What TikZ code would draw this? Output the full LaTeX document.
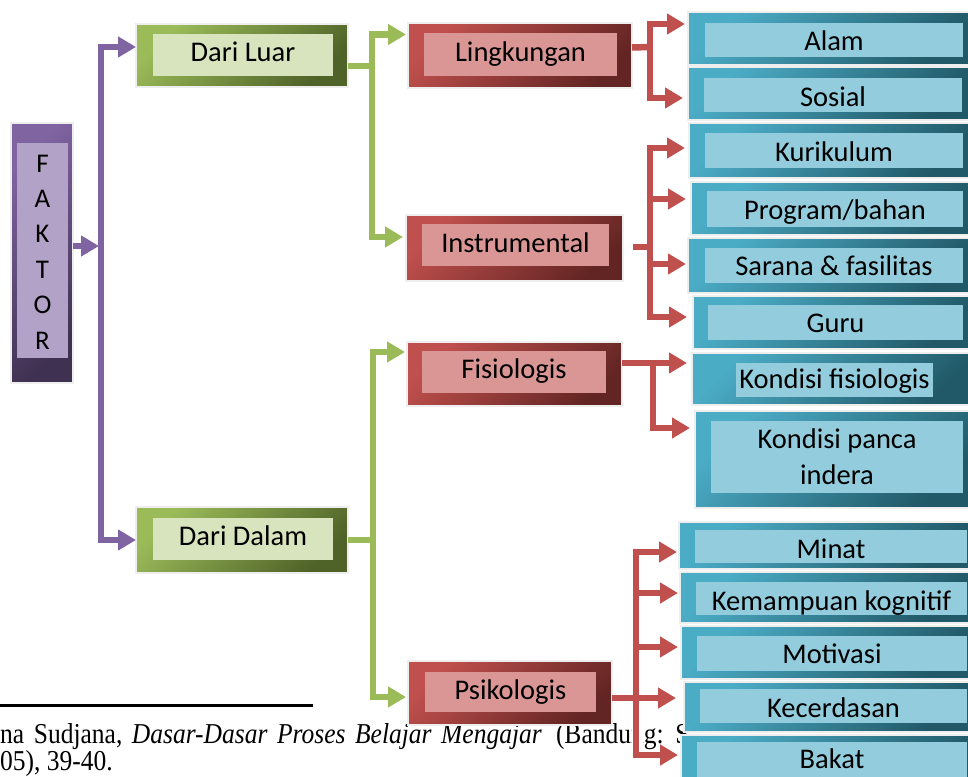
\documentclass[tikz,border=0pt]{standalone}
\usepackage{fontspec}
\setmainfont{Carlito}
\newfontfamily\tnr{Liberation Serif}
\usetikzlibrary{arrows.meta,calc,fit}
\definecolor{purA}{HTML}{8064A2}
\definecolor{purB}{HTML}{3F3151}
\definecolor{purI}{HTML}{B3A2C7}
\definecolor{grnA}{HTML}{9BBB59}
\definecolor{grnB}{HTML}{4F6228}
\definecolor{grnI}{HTML}{D7E4BD}
\definecolor{redA}{HTML}{C0504D}
\definecolor{redB}{HTML}{632523}
\definecolor{redI}{HTML}{D99694}
\definecolor{cyaA}{HTML}{4BACC6}
\definecolor{cyaB}{HTML}{215968}
\definecolor{cyaI}{HTML}{93CDDD}
\definecolor{rim}{HTML}{EEEEEE}
\tikzset{
  box/.style={inner sep=0pt, outer sep=0pt, draw=rim, line width=2pt},
  po/.style={box, top color=purA, bottom color=purB, shading angle=45},
  go/.style={box, top color=grnA, bottom color=grnB, shading angle=45},
  ro/.style={box, top color=redA, bottom color=redB, shading angle=45},
  co/.style={box, top color=cyaA, bottom color=cyaB, shading angle=45},
  inn/.style={inner sep=0pt, outer sep=0pt, draw=none},
  pin/.style={inn, fill=purI},
  gin/.style={inn, fill=grnI},
  rin/.style={inn, fill=redI},
  cin/.style={inn, fill=cyaI},
  lbl/.style={font=\fontsize{28.5}{36}\selectfont, inner sep=0pt, anchor=base, text=black},
  foot/.style={inner sep=0pt, anchor=base west, font=\tnr\fontsize{25.5}{36}\selectfont},
  arr/.style={-{Triangle[length=18pt,width=20pt]}},
  pl/.style={draw=purA, line width=6.5pt, line join=miter},
  gl/.style={draw=grnA, line width=6.5pt, line join=miter},
  rl/.style={draw=redA, line width=6.5pt, line join=miter},
}
\begin{document}
\begin{tikzpicture}[x=1pt, y=-1pt]
\useasboundingbox (0,0) rectangle (968,776);

% footnote
\draw[line width=3pt] (0,705.5) -- (313,705.5);
\node[foot] (fn1) at (0,743)
  {\scalebox{1}[1.13]{\spaceskip=9.6pt na Sudjana, \textit{Dasar-Dasar Proses Belajar Mengajar}\hspace{4.5pt} (Bandung: S}};
\node[foot] (fn2) at (0,770)
  {\scalebox{1}[1.13]{05), 39-40.}};
\draw[white, line width=11pt] (637,700) -- (637,752);

% boxes
\node[po, fit={(11,123)(73,383)}] (faktor) {};
\node[pin, fit={(17,143)(68,358)}] (faktorin) {};
\node[lbl, font=\fontsize{27}{35.4}\selectfont, align=center, anchor=north] (faktort) at (42.5,154.6) {F\\A\\K\\T\\O\\R};

\node[go, fit={(136,24)(348,87)}] (dluar) {};
\node[gin, fit={(153,34)(333,76)}] (dluarin) {};
\node[lbl] (dluart) at (243,62) {Dari Luar};

\node[go, fit={(136,507)(348,573)}] (ddalam) {};
\node[gin, fit={(153,518)(333,560)}] (ddalamin) {};
\node[lbl] (ddalamt) at (243,545) {Dari Dalam};

\node[ro, fit={(408,23)(632,88)}] (ling) {};
\node[rin, fit={(424,33)(617,76)}] (lingin) {};
\node[lbl] (lingt) at (520.5,62) {Lingkungan};

\node[ro, fit={(406,215)(623,281)}] (instr) {};
\node[rin, fit={(422,224)(609,266)}] (instrin) {};
\node[lbl] (instrt) at (515.5,252) {Instrumental};

\node[ro, fit={(407,342)(622,406)}] (fisio) {};
\node[rin, fit={(422,351)(606,393)}] (fisioin) {};
\node[lbl] (fisiot) at (514,378) {Fisiologis};

\node[ro, fit={(408,661)(612,725)}] (psiko) {};
\node[rin, fit={(425,672)(596,712)}] (psikoin) {};
\node[lbl] (psikot) at (510.5,699) {Psikologis};

\node[co, fit={(688,12)(975,65)}] (alam) {};
\node[cin, fit={(705,23)(963,57)}] (alamin) {};
\node[lbl] (alamt) at (834,51) {Alam};

\node[co, fit={(688,67)(975,120)}] (sosial) {};
\node[cin, fit={(704,78)(962,112)}] (sosialin) {};
\node[lbl] (sosialt) at (833,106) {Sosial};

\node[co, fit={(689,123)(975,178)}] (kurik) {};
\node[cin, fit={(705,133)(963,168)}] (kurikin) {};
\node[lbl] (kurikt) at (834,161) {Kurikulum};

\node[co, fit={(691,182)(975,235)}] (prog) {};
\node[cin, fit={(707,191)(963,227)}] (progin) {};
\node[lbl] (progt) at (835,219) {Program/bahan};

\node[co, fit={(688,238)(975,293)}] (sarana) {};
\node[cin, fit={(705,248)(963,283)}] (saranain) {};
\node[lbl] (saranat) at (834,275) {Sarana \& fasilitas};

\node[co, fit={(693,296)(975,349)}] (guru) {};
\node[cin, fit={(708,305)(963,340)}] (guruin) {};
\node[lbl] (gurut) at (835.5,332) {Guru};

\node[co, fit={(692,353)(975,405)}] (kfis) {};
\node[cin, fit={(736,363)(933,397)}] (kfisin) {};
\node[lbl] (kfist) at (834.5,388) {Kondisi fisiologis};

\node[co, fit={(695,411)(975,508)}] (kpanca) {};
\node[cin, fit={(711,421)(963,493)}] (kpancain) {};
\node[lbl, align=center, anchor=north] (kpancat) at (837,428.3) {Kondisi panca\\indera};

\node[co, fit={(679,522)(975,569)}] (minat) {};
\node[cin, fit={(695,530)(967,563)}] (minatin) {};
\node[lbl] (minatt) at (831,558) {Minat};

\node[co, fit={(680,572)(975,623)}] (kemamp) {};
\node[cin, fit={(696,582)(967,615)}] (kemampin) {};
\node[lbl] (kemampt) at (831.5,610) {Kemampuan kognitif};

\node[co, fit={(681,626)(975,679)}] (motiv) {};
\node[cin, fit={(697,636)(967,671)}] (motivin) {};
\node[lbl] (motivt) at (832,663) {Motivasi};

\node[co, fit={(684,682)(975,732)}] (kecer) {};
\node[cin, fit={(700,689)(967,723)}] (kecerin) {};
\node[lbl] (kecert) at (833.5,717) {Kecerdasan};

\node[co, fit={(681,735)(975,790)}] (bakat) {};
\node[cin, fit={(697,742)(967,790)}] (bakatin) {};
\node[lbl] (bakatt) at (832,768) {Bakat};

% purple connectors
\coordinate (pj) at (101,246);
\draw[pl,arr] ($(faktor.east)+(0,-7)$) -- ($(faktor.east)+(26,-7)$);
\draw[pl,arr] (pj) |- ($(dluar.west)+(0,-8.5)$);
\draw[pl,arr] (pj) |- (ddalam.west);

% green connectors
\coordinate (gj1) at (372,66);
\draw[gl] ($(dluar.east)+(0,10.5)$) -- (gj1);
\draw[gl,arr] (gj1) |- ($(ling.west)+(-2,-21)$);
\draw[gl,arr] (gj1) |- ($(instr.west)+(-3,-11)$);
\coordinate (gj2) at (373,540);
\draw[gl] (ddalam.east) -- (gj2);
\draw[gl,arr] (gj2) |- ($(fisio.west)+(-2,-22)$);
\draw[gl,arr] (gj2) |- ($(psiko.west)+(-2,4)$);

% red connectors
\coordinate (rj1) at (650,47);
\draw[rl] ($(ling.east)+(0,-8)$) -- (rj1);
\draw[rl,arr] (rj1) |- ($(alam.west)+(-3,-14.5)$);
\draw[rl,arr] (rj1) |- ($(sosial.west)+(-5,4.5)$);

\coordinate (rj2) at (650,247);
\draw[rl] ($(instr.east)+(10,-1)$) -- (rj2);
\draw[rl,arr] (rj2) |- ($(kurik.west)+(-4,-2.5)$);
\draw[rl,arr] (rj2) |- ($(prog.west)+(-5,-9.5)$);
\draw[rl,arr] (rj2) |- ($(sarana.west)+(-2,-1.5)$);
\draw[rl,arr] (rj2) |- ($(guru.west)+(-6,-5.5)$);

\coordinate (rj3) at (653,363);
\draw[rl] ($(fisio.east)+(0,-11)$) -- (rj3);
\draw[rl,arr] (rj3) -- ($(kfis.west)+(-5,-16)$);
\draw[rl,arr] (rj3) |- ($(kpanca.west)+(-5,-31.5)$);

\coordinate (rj4) at (636,698);
\draw[rl,arr] ($(psiko.east)+(0,5)$) -- ($(kecer.west)+(-8,-9)$);
\draw[rl,arr] (rj4) |- ($(minat.west)+(-2,6.5)$);
\draw[rl,arr] (rj4) |- ($(kemamp.west)+(-2,-4.5)$);
\draw[rl,arr] (rj4) |- ($(motiv.west)+(-3,-5.5)$);
\draw[rl,arr] (rj4) |- ($(bakat.west)+(-3,-7.5)$);
\end{tikzpicture}
\end{document}
